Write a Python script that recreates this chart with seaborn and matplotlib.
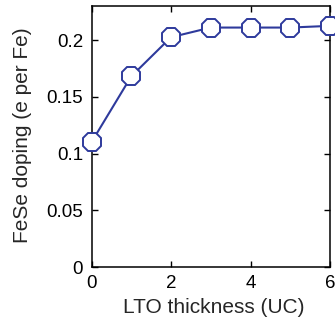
import matplotlib
matplotlib.use("Agg")
import matplotlib.pyplot as plt
import seaborn as sns
import pandas as pd

# LTO thickness (unit cells) vs FeSe electron doping
thickness = [0, 1, 2, 3, 4, 5, 6]
doping = [0.110, 0.168, 0.2025, 0.211, 0.211, 0.211, 0.2125]
xticks = [0, 2, 4, 6]
yticks = [0, 0.05, 0.1, 0.15, 0.2]
ytick_labels = ["0", "0.05", "0.1", "0.15", "0.2"]

sns.set_style("ticks")
plt.rcParams["font.family"] = ["Liberation Sans", "DejaVu Sans"]

df = pd.DataFrame({"thickness": thickness, "doping": doping})

fig = plt.figure(figsize=(3.35, 3.29), dpi=100)
ax = fig.add_axes([91.5 / 335, 62 / 329, (330 - 91.5) / 335, (267 - 6) / 329])

color = "#2e3a9c"
sns.lineplot(data=df, x="thickness", y="doping", ax=ax, color=color, lw=1.5,
             marker="8", markersize=13.5, markerfacecolor="white",
             markeredgecolor=color, markeredgewidth=1.4, clip_on=False, zorder=3)

ax.set_xlim(0, 6)
ax.set_ylim(0, 0.23)
ax.set_xticks(xticks)
ax.set_xticklabels([str(t) for t in xticks])
ax.set_yticks(yticks)
ax.set_yticklabels(ytick_labels)
ax.tick_params(direction="in", length=4, width=1, top=True, right=True,
               labelsize=13.5, colors="black")
ax.tick_params(axis="x", pad=6)
ax.tick_params(axis="y", pad=6)
for s in ax.spines.values():
    s.set_visible(True)
    s.set_linewidth(1.1)
    s.set_color("black")

ax.set_xlabel("LTO thickness (UC)", fontsize=15)
ax.set_ylabel("FeSe doping (e per Fe)", fontsize=15)
ax.xaxis.set_label_coords(0.514, -0.119)
ax.yaxis.set_label_coords(-0.249, 0.505)

fig.savefig("out.png", dpi=100)
